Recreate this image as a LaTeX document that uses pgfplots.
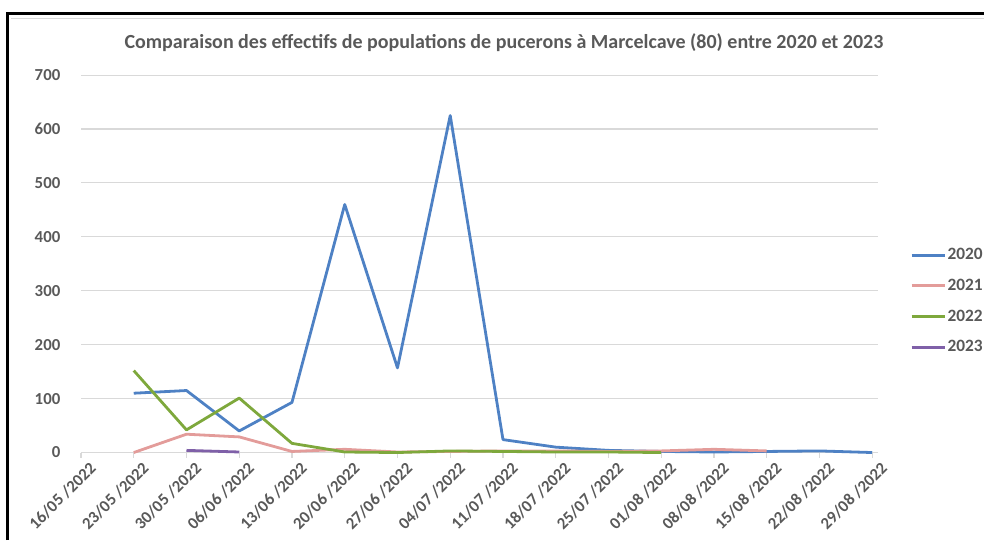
\documentclass[border=0pt]{standalone}
\usepackage{pgfplots}
\pgfplotsset{compat=1.18}
\usepackage{fontspec}
\setmainfont{Carlito}
\definecolor{cblue}{HTML}{4E81C4}
\definecolor{cred}{HTML}{E39C9A}
\definecolor{cgreen}{HTML}{7EA83C}
\definecolor{cpurple}{HTML}{7F60A8}
\definecolor{tgray}{HTML}{595959}
\definecolor{ggray}{HTML}{D9D9D9}
\begin{document}
\begin{tikzpicture}
\useasboundingbox (0pt,0pt) rectangle (738pt,405pt);
% frame (top and left)
\draw[line width=2pt] (5.85pt,0pt) -- (5.85pt,394.7pt) -- (738pt,394.7pt);
\draw[ggray, line width=0.6pt] (8pt,391.5pt) -- (738pt,391.5pt);
\node[font=\bfseries\fontsize{15}{18}\selectfont, text=tgray] at (378pt,372.8pt) {Comparaison des effectifs de populations de pucerons à Marcelcave (80) entre 2020 et 2023};
\begin{axis}[
  at={(60.75pt,65.6pt)}, anchor=south west,
  scale only axis, width=597.75pt, height=283.1pt,
  xmin=0, xmax=15.11, ymin=0, ymax=700,
  xtick={0,...,15},
  xticklabels={16/05 /2022,23/05 /2022,30/05 /2022,06/06 /2022,13/06 /2022,20/06 /2022,27/06 /2022,04/07 /2022,11/07 /2022,18/07 /2022,25/07 /2022,01/08 /2022,08/08 /2022,15/08 /2022,22/08 /2022,29/08 /2022},
  ytick={0,100,...,700},
  ymajorgrids, major grid style={ggray, line width=0.8pt},
  axis x line*=bottom, axis y line*=left,
  x axis line style={ggray, line width=0.8pt, -},
  y axis line style={draw=none},
  xtick style={ggray, line width=0.8pt},
  tick align=outside, major tick length=4pt,
  ytick style={draw=none},
  tick label style={font=\bfseries\fontsize{12.6}{15}\selectfont, text=tgray},
  /pgf/number format/assume math mode=true,
  xticklabel style={rotate=45, anchor=north east, xshift=6pt, yshift=-2pt},
  yticklabel style={xshift=-8pt},
  legend style={draw=none, fill=none, at={(1.04,0.545)}, anchor=north west,
    font=\bfseries\fontsize{13}{15}\selectfont, text=tgray, row sep=11pt,
    inner sep=0pt, nodes={inner sep=1pt}},
  legend cell align=left,
  legend image code/.code={\draw[#1] (0pt,0pt) -- (25pt,0pt);},
  every axis plot/.append style={line width=2.1pt, line join=round},
  clip=false,
]
\addplot[cblue] coordinates {(1,110) (2,115) (3,40) (4,93) (5,460) (6,157) (7,625) (8,24) (9,10) (10,4) (11,2) (12,1) (13,2) (14,3) (15,0)};
\addlegendentry{2020}
\addplot[cred] coordinates {(1,0) (2,34) (3,29) (4,2) (5,6) (6,1) (7,2) (8,3) (9,3) (10,2) (11,3) (12,6) (13,3)};
\addlegendentry{2021}
\addplot[cgreen] coordinates {(1,152) (2,42) (3,101) (4,17) (5,1) (6,0) (7,3) (8,2) (9,1) (10,1) (11,0)};
\addlegendentry{2022}
\addplot[cpurple] coordinates {(2,4) (3,1)};
\addlegendentry{2023}
\end{axis}
\end{tikzpicture}
\end{document}
